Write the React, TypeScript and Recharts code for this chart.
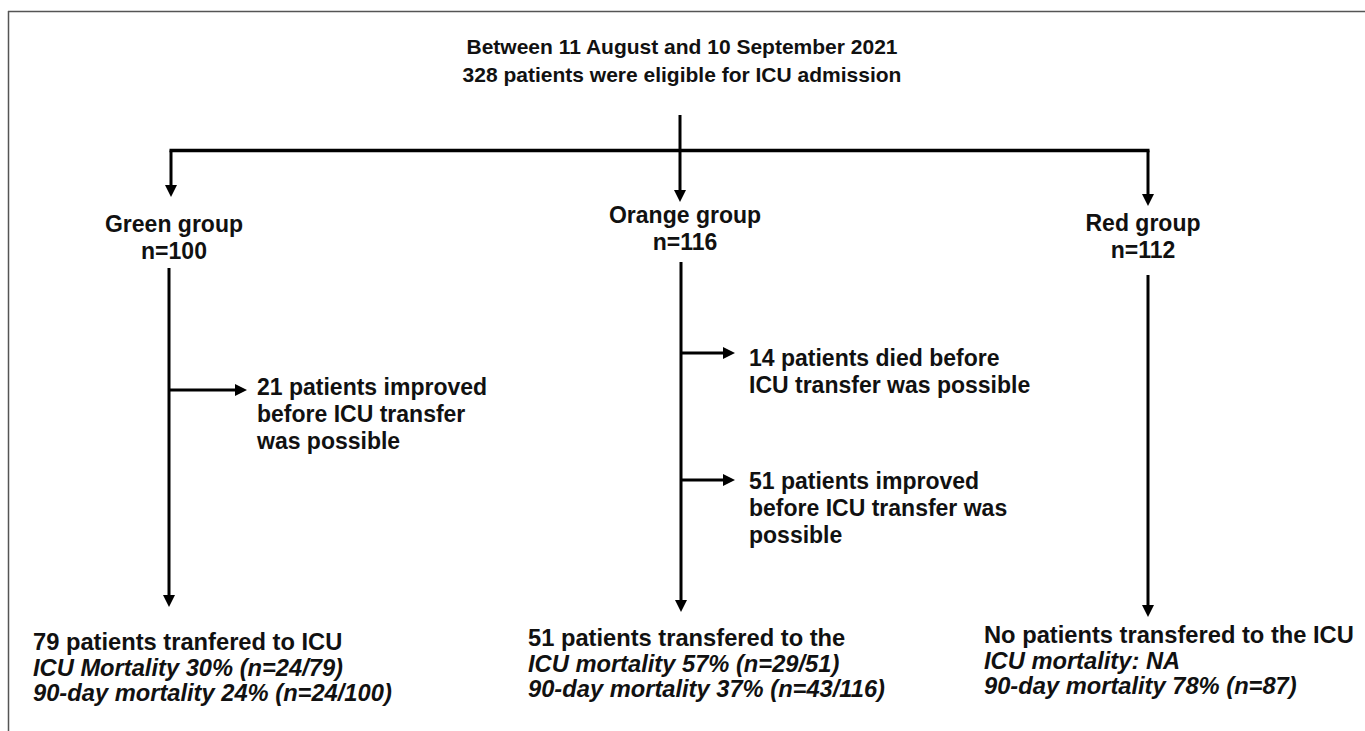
import React from 'react';
import { ScatterChart, Scatter, XAxis, YAxis, ReferenceLine } from 'recharts';

// ---------- Data ----------
const studyPeriod = 'Between 11 August and 10 September 2021';
const eligiblePatients = 328;
const groupNames = ['Green group', 'Orange group', 'Red group'];
const groupCounts = [100, 116, 112];
const greenExclusion = ['21 patients improved', 'before ICU transfer', 'was possible'];
const orangeDied = ['14 patients died before', 'ICU transfer was possible'];
const orangeImproved = ['51 patients improved', 'before ICU transfer was', 'possible'];
const outcomeTransfer = [
  '79 patients tranfered to ICU',
  '51 patients transfered to the',
  'No patients transfered to the ICU',
];
const outcomeIcuMortality = [
  'ICU Mortality 30% (n=24/79)',
  'ICU mortality 57% (n=29/51)',
  'ICU mortality: NA',
];
const outcome90Day = [
  '90-day mortality 24% (n=24/100)',
  '90-day mortality 37% (n=43/116)',
  '90-day mortality 78% (n=87)',
];

// ---------- Layout (pixel coordinates of the canvas) ----------
const W = 1365;
const H = 731;
const FONT = "'Liberation Sans', Arial, Helvetica, sans-serif";

const groupPos = [
  { x: 174, y: 232 },
  { x: 685, y: 223 },
  { x: 1143, y: 231 },
];
const outcomePos = [
  { x: 33, y: 650 },
  { x: 528, y: 646 },
  { x: 984, y: 643 },
];

const textNodes = [
  { x: 682, y: 54, lines: [studyPeriod, `${eligiblePatients} patients were eligible for ICU admission`], anchor: 'middle', size: 21, lh: 28, italic: [false, false] },
  ...groupNames.map((g, i) => ({
    x: groupPos[i].x,
    y: groupPos[i].y,
    lines: [g, `n=${groupCounts[i]}`],
    anchor: 'middle',
    size: 23,
    lh: 27,
    italic: [false, false],
  })),
  { x: 257, y: 395, lines: greenExclusion, anchor: 'start', size: 23, lh: 27, italic: [false, false, false] },
  { x: 749, y: 366, lines: orangeDied, anchor: 'start', size: 23, lh: 27, italic: [false, false] },
  { x: 749, y: 489, lines: orangeImproved, anchor: 'start', size: 23, lh: 27, italic: [false, false, false] },
  ...outcomeTransfer.map((t, i) => ({
    x: outcomePos[i].x,
    y: outcomePos[i].y,
    lines: [t, outcomeIcuMortality[i], outcome90Day[i]],
    anchor: 'start',
    size: 23.7,
    lh: 25.5,
    italic: [false, true, true],
  })),
];

const segments = [
  { x1: 680, y1: 115, x2: 680, y2: 192, w: 3 },
  { x1: 169.5, y1: 150.5, x2: 1149.5, y2: 150.5, w: 3.5 },
  { x1: 171, y1: 150.5, x2: 171, y2: 188, w: 3 },
  { x1: 1148, y1: 150.5, x2: 1148, y2: 196, w: 3 },
  { x1: 169, y1: 268, x2: 169, y2: 598, w: 3 },
  { x1: 169, y1: 390, x2: 238, y2: 390, w: 3 },
  { x1: 681, y1: 262, x2: 681, y2: 603, w: 3 },
  { x1: 681, y1: 353, x2: 726, y2: 353, w: 3 },
  { x1: 681, y1: 480, x2: 726, y2: 480, w: 3 },
  { x1: 1148, y1: 275, x2: 1148, y2: 608, w: 3 },
];

const arrowTips = [
  { x: 680, y: 202, dir: 'down' },
  { x: 171, y: 197, dir: 'down' },
  { x: 1148, y: 206, dir: 'down' },
  { x: 169, y: 607, dir: 'down' },
  { x: 247, y: 390, dir: 'right' },
  { x: 681, y: 612, dir: 'down' },
  { x: 735, y: 353, dir: 'right' },
  { x: 735, y: 480, dir: 'right' },
  { x: 1148, y: 617, dir: 'down' },
];

const frame = [
  { x1: 8, y1: 11.5, x2: W, y2: 11.5 },
  { x1: 8.5, y1: 11, x2: 8.5, y2: H },
];

// ---------- Shapes ----------
const TextShape = (props: any) => {
  const { cx, cy, payload } = props;
  if (cx == null || cy == null) return <g />;
  return (
    <text
      x={cx}
      y={cy}
      textAnchor={payload.anchor}
      fontFamily={FONT}
      fontWeight="bold"
      fontSize={payload.size}
      fill="#111"
    >
      {payload.lines.map((l: string, i: number) => (
        <tspan
          key={i}
          x={cx}
          dy={i === 0 ? 0 : payload.lh}
          fontStyle={payload.italic[i] ? 'italic' : 'normal'}
        >
          {l}
        </tspan>
      ))}
    </text>
  );
};

const ArrowShape = (props: any) => {
  const { cx, cy, payload } = props;
  if (cx == null || cy == null) return <g />;
  const L = 12;
  const hw = 6;
  const pts =
    payload.dir === 'down'
      ? `${cx - hw},${cy - L} ${cx + hw},${cy - L} ${cx},${cy}`
      : `${cx - L},${cy - hw} ${cx - L},${cy + hw} ${cx},${cy}`;
  return <polygon points={pts} fill="#000" />;
};

export default function App() {
  return (
    <div style={{ position: 'absolute', left: 0, top: 0, width: W, height: H, background: '#fff' }}>
      <ScatterChart width={W} height={H} margin={{ top: 0, right: 0, bottom: 0, left: 0 }}>
        <XAxis type="number" dataKey="x" domain={[0, W]} hide allowDataOverflow />
        <YAxis type="number" dataKey="y" domain={[0, H]} reversed hide allowDataOverflow />
        {frame.map((s, i) => (
          <ReferenceLine
            key={`f${i}`}
            segment={[{ x: s.x1, y: s.y1 }, { x: s.x2, y: s.y2 }]}
            stroke="#555"
            strokeWidth={1.5}
            ifOverflow="visible"
          />
        ))}
        {segments.map((s, i) => (
          <ReferenceLine
            key={`s${i}`}
            segment={[{ x: s.x1, y: s.y1 }, { x: s.x2, y: s.y2 }]}
            stroke="#000"
            strokeWidth={s.w}
            ifOverflow="visible"
          />
        ))}
        <Scatter data={arrowTips} shape={ArrowShape} isAnimationActive={false} />
        <Scatter data={textNodes} shape={TextShape} isAnimationActive={false} />
      </ScatterChart>
    </div>
  );
}
